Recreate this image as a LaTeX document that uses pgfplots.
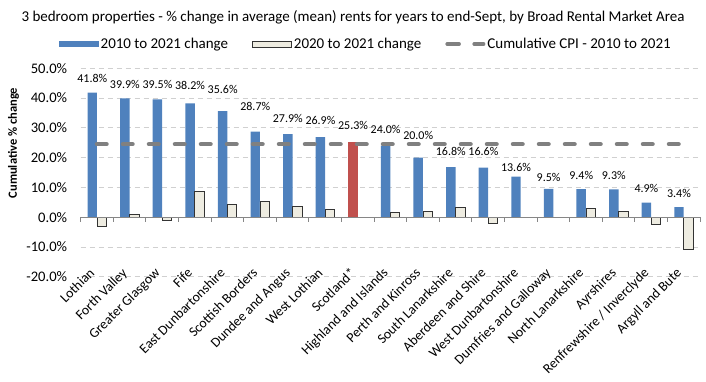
\documentclass[border=0pt]{standalone}
\usepackage{pgfplots}
\pgfplotsset{compat=1.18}
\usepackage{fontspec}
\setmainfont{Carlito}
\definecolor{cblue}{HTML}{4F81BD}
\definecolor{cred}{HTML}{C0504D}
\definecolor{cbeige}{HTML}{EEECE1}
\definecolor{cgray}{HTML}{808080}
\definecolor{cgrid}{HTML}{D0D0D0}
\definecolor{caxis}{HTML}{868686}
\pgfplotstableread{
x blue beige
0 41.8 -3.0
1 39.9 0.8
2 39.5 -1.0
3 38.2 8.6
4 35.6 4.4
5 28.7 5.2
6 27.9 3.6
7 26.9 2.5
8 nan -0.2
9 24.0 1.5
10 20.0 2.0
11 16.8 3.3
12 16.6 -2.0
13 13.6 -0.1
14 9.5 -0.2
15 9.4 2.8
16 9.3 1.9
17 4.9 -2.5
18 3.4 -11.0
}\bars
\pgfplotstableread{
x ly v
-0.145 46.6 41.8
0.855 44.7 39.9
1.855 44.7 39.5
2.855 44.3 38.2
3.855 42.7 35.6
4.855 37.0 28.7
5.855 33.1 27.9
6.855 32.3 26.9
7.855 30.8 25.3
8.855 29.4 24.0
9.855 27.5 20.0
10.855 22.2 16.8
11.855 22.2 16.6
12.855 16.8 13.6
13.855 13.3 9.5
14.855 14.0 9.4
15.855 14.0 9.3
16.855 9.6 4.9
17.855 7.9 3.4
}\labels
\begin{document}
\begin{tikzpicture}
\useasboundingbox (0,0) rectangle (706pt,381pt);
\begin{axis}[
  at={(80.7pt,104.3pt)}, anchor=south west, scale only axis,
  width=619.3pt, height=208.5pt,
  xmin=-0.5, xmax=18.5, ymin=-20, ymax=50,
  clip=false,
  axis line style={draw=none},
  xtick={0,...,18},
  xticklabels={Lothian,Forth Valley,Greater Glasgow,Fife,East Dunbartonshire,Scottish Borders,Dundee and Angus,West Lothian,Scotland*,Highland and Islands,Perth and Kinross,South Lanarkshire,Aberdeen and Shire,West Dunbartonshire,Dumfries and Galloway,North Lanarkshire,Ayrshires,Renfrewshire / Inverclyde,Argyll and Bute},
  xticklabel style={rotate=45, anchor=north east, inner sep=0pt, font=\fontsize{13.8}{16}\selectfont, xshift=1pt, yshift=13pt},
  ytick={-20,-10,...,50},
  tick style={draw=none},
  ymajorgrids,
  grid style={cgrid, dash pattern=on 5pt off 4pt, line width=0.8pt},
  /pgf/number format/assume math mode=true,
  yticklabel={\pgfmathprintnumber[fixed,fixed zerofill,precision=1]{\tick}\%},
  yticklabel style={font=\fontsize{14.6}{16}\selectfont, xshift=-10pt},
  ylabel={Cumulative \% change},
  ylabel style={font=\bfseries\fontsize{12.5}{14}\selectfont, at={(axis description cs:-0.1085,0.641)}, anchor=center},
  legend columns=3,
  legend style={at={(axis description cs:0.4602,1.116)}, anchor=center, draw=none, fill=none,
    font=\fontsize{15}{17}\selectfont, inner sep=0pt,
    nodes={inner sep=2pt},
    /tikz/every even column/.append style={column sep=22pt}},
]
\addplot[ybar, bar width=0.29, bar shift=-0.145, fill=cblue, draw=none,
  legend image code/.code={\fill[cblue] (0pt,-3pt) rectangle (40pt,3pt);}]
  table[x=x, y=blue] {\bars};
\addlegendentry{2010 to 2021 change}
\addplot[ybar, bar width=0.29, bar shift=0.145, fill=cbeige, draw=black!80, line width=0.8pt,
  legend image code/.code={\draw[fill=cbeige, draw=black!80, line width=0.8pt] (0.5pt,-3pt) rectangle (39.5pt,3pt);}]
  table[x=x, y=beige] {\bars};
\addlegendentry{2020 to 2021 change}
\addplot[ybar, bar width=0.29, bar shift=-0.145, fill=cred, draw=none, forget plot]
  coordinates {(8,25.3)};
\addplot[cgray, line width=4.5pt, line cap=round, dash pattern=on 9.5pt off 16.5pt,
  legend image code/.code={\draw[cgray, line width=3.5pt, line cap=round, dash pattern=on 12pt off 15pt] (1.75pt,0) -- (38.25pt,0);}]
  coordinates {(0,24.5) (18,24.5)};
\addlegendentry{Cumulative CPI - 2010 to 2021}
\addplot[draw=none, mark=none, forget plot, point meta=explicit,
  nodes near coords={\pgfmathprintnumber[fixed,fixed zerofill,precision=1]{\pgfplotspointmeta}\%},
  nodes near coords style={anchor=center, inner sep=0pt, font=\fontsize{12}{14}\selectfont, text=black}]
  table[x=x, y=ly, meta=v] {\labels};
\draw[caxis, line width=0.9pt] (axis cs:-0.5,0) -- (axis cs:18.5,0);
\pgfplotsinvokeforeach{-0.5,0.5,...,18.5}{\draw[caxis, line width=0.9pt] (axis cs:#1,0) -- ++(0pt,-4.5pt);}
\end{axis}
\node[font=\fontsize{15}{18}\selectfont, anchor=center] at (353pt,364pt)
  {3 bedroom properties - \% change in average (mean) rents for years to end-Sept, by Broad Rental Market Area};
\end{tikzpicture}
\end{document}
